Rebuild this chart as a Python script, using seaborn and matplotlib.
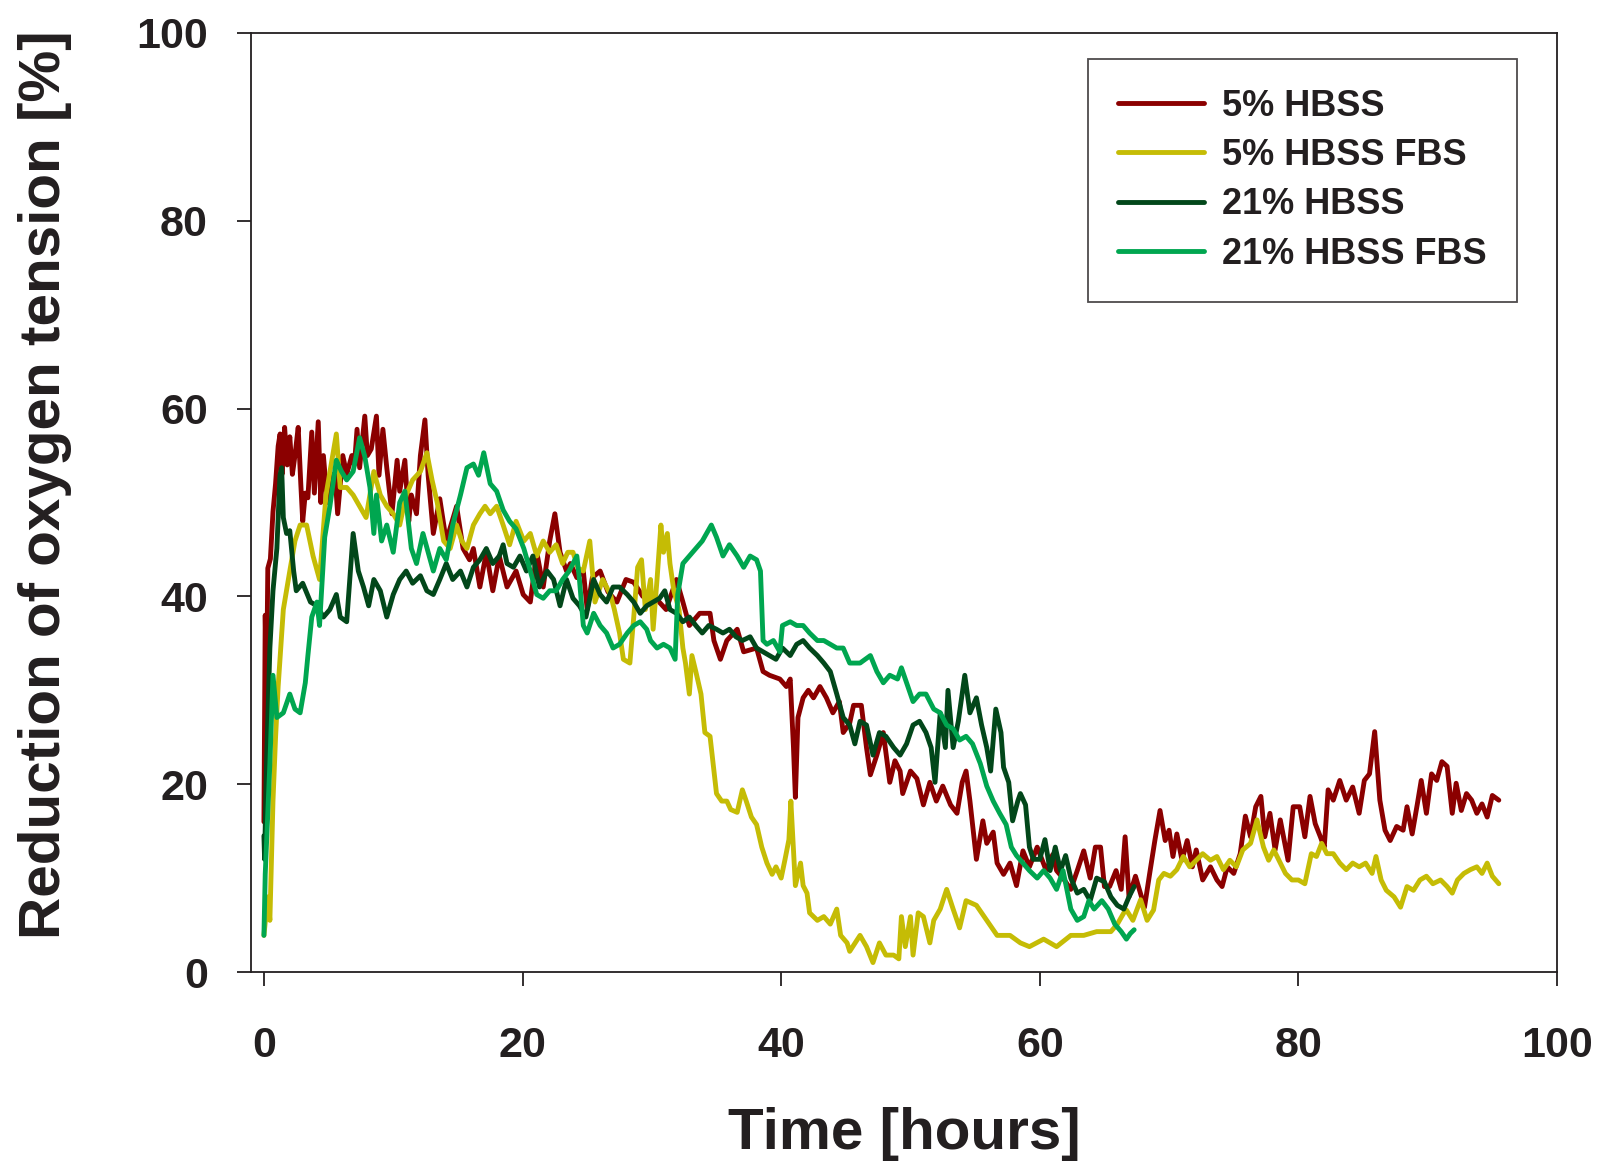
import numpy as np
import pandas as pd
import matplotlib
matplotlib.use("Agg")
import matplotlib.pyplot as plt
import seaborn as sns

# ---------------- data ----------------
labels = ["5% HBSS", "5% HBSS FBS", "21% HBSS", "21% HBSS FBS"]
colors = ["#8B0000", "#C5BC05", "#02471A", "#00A650"]

# 5% HBSS
t_red = [0.0, 0.1, 0.2, 0.3, 0.5, 0.7, 0.9, 1.1, 1.25, 1.4, 1.6, 1.8, 2.0, 2.2, 2.4, 2.65, 2.85, 3.0,
         3.2, 3.4, 3.7, 3.9, 4.2, 4.4, 4.6, 4.9, 5.2, 5.5, 5.7, 6.1, 6.4, 6.8, 7.0, 7.2, 7.4, 7.8, 8.0,
         8.3, 8.7, 8.9, 9.2, 9.5, 9.9, 10.3, 10.5, 10.9, 11.2, 11.4, 11.8, 12.1, 12.45, 12.7, 13.1,
         13.6, 14.1, 14.9, 15.4, 15.9, 16.2, 16.7, 17.2, 17.7, 18.2, 18.8, 19.5, 20.05, 20.6, 21.1,
         21.6, 22.1, 22.5, 22.9, 23.4, 23.7, 24.2, 24.7, 25.0, 25.4, 26.0, 26.6, 27.3, 28.0, 28.6,
         29.3, 29.9, 30.5, 31.1, 31.9, 32.4, 32.9, 33.7, 34.5, 34.8, 35.3, 35.8, 36.6, 37.1, 38.1,
         38.6, 39.1, 39.9, 40.4, 40.7, 40.95, 41.1, 41.3, 41.7, 42.1, 42.5, 43.0, 43.5, 44.0, 44.5,
         44.8, 45.3, 45.6, 46.2, 46.6, 46.9, 47.4, 47.9, 48.4, 48.8, 49.2, 49.4, 50.0, 50.5, 51.0,
         51.5, 52.0, 52.5, 53.1, 53.6, 54.0, 54.3, 54.6, 55.1, 55.6, 55.9, 56.4, 56.7, 57.2, 57.7,
         58.2, 58.7, 59.2, 59.8, 60.5, 61.0, 61.3, 61.8, 62.4, 62.9, 63.4, 63.9, 64.3, 64.7, 65.0,
         65.4, 65.9, 66.3, 66.6, 66.9, 67.4, 68.1, 68.5, 68.9, 69.3, 69.7, 70.0, 70.3, 70.6, 71.0,
         71.4, 71.8, 72.1, 72.6, 73.2, 73.7, 74.1, 74.5, 75.0, 75.5, 75.9, 76.3, 76.7, 77.1, 77.4,
         77.8, 78.2, 78.6, 79.0, 79.2, 79.6, 80.1, 80.5, 80.9, 81.3, 81.7, 82.0, 82.3, 82.7, 83.2,
         83.7, 84.2, 84.7, 85.1, 85.5, 85.9, 86.3, 86.7, 87.1, 87.6, 88.1, 88.4, 88.8, 89.2, 89.5,
         89.9, 90.3, 90.7, 91.1, 91.5, 91.9, 92.2, 92.6, 93.0, 93.4, 93.8, 94.2, 94.6, 95.0, 95.5]
red = [16, 38, 30, 43, 44, 49, 52, 56, 57.3, 53, 58, 54, 57, 53, 55, 58, 52, 48,
       51, 50.5, 57.5, 51, 58.6, 50, 55, 50, 53, 52.9, 48.8, 55, 53, 55, 54, 57.8, 53.7, 59.2, 55,
       55.7, 59.2, 52.9, 57.8, 53.7, 48.8, 54.5, 51.2, 54.5, 48, 50.8, 48.8, 55, 58.8, 52.9, 46.7,
       50.4, 45.9, 49.6, 45.1, 43.9, 45.1, 41, 44.7, 40.6, 44.3, 41, 42.7, 40.2, 39.4, 44.7,
       41, 45.9, 48.8, 44.7, 42.7, 43.5, 42.0, 42.7, 38.6, 42, 42.7, 40.5, 39.4, 41.8, 41.5,
       40, 40.2, 39.5, 38.6, 41.8, 39.4, 36.9, 38.2, 38.2, 35.3, 33.3, 35.3, 36.5, 34.1, 34.5,
       32, 31.6, 31.2, 30.4, 31.2, 24, 18.6, 27.1, 29.2, 30.0, 29.2, 30.4, 29.2, 27.6, 28.8,
       25.5, 26.5, 28.4, 28.4, 23.9, 21, 23.1, 25.5, 20.2, 22.5, 21.4, 19, 21.4, 20.6, 17.8,
       20.2, 18.2, 19.8, 17.8, 16.9, 20.2, 21.4, 18.2, 12, 16.1, 13.7, 14.9, 11.6, 10.4, 11.6,
       9.2, 12.9, 11.2, 13.3, 10.8, 12.5, 10.8, 10, 8.8, 10.8, 12.9, 10, 13.3, 13.3, 9.1,
       9.1, 10.8, 8.8, 14.4, 8.0, 10.2, 6.9, 10.5, 14.0, 17.2, 14.0, 15.1, 12.3, 14.7, 11.9,
       14.0, 11.2, 13.0, 9.8, 11.2, 9.8, 9.1, 11.2, 10.5, 12.6, 16.6, 14.4, 17.6, 18.7, 14.4,
       16.9, 13.0, 16.2, 13.3, 11.9, 17.6, 17.6, 14.4, 18.7, 15.8, 14.4, 13.3, 19.4, 18.3, 20.4,
       18.3, 19.7, 16.9, 20.4, 21.1, 25.6, 18.3, 15.1, 14.0, 15.5, 15.1, 17.6, 14.7, 17.9, 20.4,
       16.9, 21.1, 20.4, 22.4, 21.9, 16.9, 20.1, 17.2, 19.0, 18.3, 16.9, 17.9, 16.5, 18.8, 18.3]

# 5% HBSS FBS
t_yel = [0.0, 0.3, 0.46, 0.7, 0.9, 1.1, 1.5, 2.0, 2.4, 2.8, 3.3, 3.8, 4.3, 4.8, 5.4, 5.6, 5.9, 6.4,
         6.9, 7.4, 7.9, 8.5, 9.0, 9.5, 10.0, 10.5, 11.0, 11.5, 12.1, 12.6, 13.0, 13.4, 13.9, 14.4,
         14.9, 15.3, 15.7, 16.2, 16.7, 17.1, 17.5, 18.0, 18.5, 19.0, 19.5, 20.1, 20.6, 21.1, 21.6,
         22.1, 22.6, 23.1, 23.5, 23.9, 24.3, 24.7, 25.2, 25.6, 26.2, 26.8, 27.1, 27.5, 27.8, 28.3,
         28.6, 28.9, 29.2, 29.5, 29.9, 30.1, 30.4, 30.7, 30.9, 31.2, 31.4, 31.7, 32.1, 32.4, 32.6,
         32.9, 33.1, 33.4, 33.8, 34.1, 34.5, 34.8, 35.0, 35.4, 35.8, 36.1, 36.6, 37.0, 37.3, 37.7,
         38.1, 38.5, 38.9, 39.3, 39.6, 40.0, 40.3, 40.6, 40.75, 41.1, 41.5, 41.7, 42.0, 42.2, 42.8,
         43.3, 43.8, 44.3, 44.6, 45.1, 45.3, 46.1, 46.6, 47.1, 47.6, 48.1, 48.7, 49.1, 49.3, 49.6,
         50.0, 50.2, 50.6, 51.0, 51.5, 51.8, 52.3, 52.8, 53.3, 53.8, 54.3, 55.1, 55.9, 56.7, 57.7,
         58.5, 59.2, 60.3, 61.3, 62.4, 63.4, 64.4, 65.5, 66.0, 66.5, 66.7, 67.2, 67.8, 68.3, 68.8,
         69.2, 69.6, 70.1, 70.6, 71.1, 71.6, 72.1, 72.6, 73.2, 73.7, 74.2, 74.7, 75.2, 75.7, 76.3,
         76.8, 77.3, 77.7, 78.1, 78.6, 79.0, 79.5, 80.0, 80.5, 81.0, 81.4, 81.8, 82.2, 82.7, 83.2,
         83.7, 84.2, 84.7, 85.2, 85.7, 86.0, 86.4, 86.8, 87.4, 87.9, 88.4, 88.9, 89.4, 89.9, 90.4,
         91.0, 91.5, 91.9, 92.3, 92.8, 93.3, 93.8, 94.2, 94.6, 95.0, 95.5]
yel = [3.9, 8, 5.5, 18.2, 25, 30.4, 38.6, 42.7, 45.9, 47.6, 47.6, 44.3, 41.8, 50.8, 55.7, 57.3, 51.6, 51.6,
       50.8, 49.6, 48.4, 53.3, 50.8, 49.6, 48.8, 47.6, 50.8, 52.4, 53.3, 55.3, 52.4, 50.0, 45.9, 45.1,
       47.6, 45.9, 45.1, 47.6, 48.8, 49.6, 48.8, 49.6, 47.6, 45.5, 48.0, 45.9, 46.7, 44.3, 45.9,
       44.7, 45.5, 43.5, 44.7, 44.7, 43.0, 42.7, 45.9, 39.4, 41.8, 40.2, 38.6, 36.1, 33.3, 32.9,
       37.8, 43.1, 43.9, 38.6, 41.8, 36.5, 41.8, 47.6, 44.7, 46.7, 43.5, 40.6, 38.6, 34.5, 32.9,
       29.6, 33.7, 32.0, 29.6, 25.5, 25.1, 21.4, 19.0, 18.2, 18.2, 17.3, 17.0, 19.4, 18.2, 16.5,
       15.7, 13.3, 11.6, 10.4, 11.2, 10.0, 12.0, 14.1, 18.2, 9.2, 11.6, 9.2, 8.4, 6.3, 5.5,
       5.9, 5.1, 6.7, 3.9, 3.1, 2.2, 3.9, 2.7, 1.0, 3.1, 1.8, 1.8, 1.4, 5.9, 2.7,
       5.9, 1.8, 6.3, 5.9, 3.1, 5.5, 6.7, 8.8, 6.7, 4.7, 7.6, 7.1, 5.5, 3.9, 3.9,
       3.1, 2.7, 3.5, 2.7, 3.9, 3.9, 4.3, 4.3, 5.1, 6.3, 6.6, 5.5, 7.7, 5.5, 6.6,
       9.8, 10.5, 10.2, 10.9, 12.3, 11.2, 11.9, 12.6, 11.9, 12.3, 10.9, 11.9, 11.2, 13.0, 13.7,
       16.2, 13.3, 11.9, 13.0, 11.6, 10.5, 9.8, 9.8, 9.4, 12.6, 12.3, 13.7, 12.6, 12.6, 11.6,
       10.9, 11.6, 11.2, 11.6, 10.5, 12.3, 9.8, 8.7, 8.0, 6.9, 9.1, 8.7, 9.8, 10.2, 9.4,
       9.8, 9.1, 8.4, 9.8, 10.5, 10.9, 11.2, 10.5, 11.6, 10.2, 9.4]

# 21% HBSS
t_dkg = [0.0, 0.05, 0.2, 0.46, 0.7, 1.0, 1.24, 1.37, 1.5, 1.75, 2.0, 2.3, 2.5, 3.0, 3.6, 4.1, 4.6, 5.1,
         5.6, 5.9, 6.4, 6.9, 7.3, 7.7, 8.1, 8.5, 9.0, 9.5, 10.0, 10.5, 11.0, 11.5, 12.1, 12.6, 13.1,
         13.6, 14.1, 14.6, 15.2, 15.7, 16.2, 16.7, 17.2, 17.7, 18.2, 18.5, 18.8, 19.3, 19.8, 20.3,
         20.8, 21.3, 21.9, 22.4, 22.9, 23.4, 23.9, 24.4, 24.9, 25.5, 26.0, 26.5, 27.0, 27.5, 28.1,
         28.6, 29.1, 29.6, 30.1, 30.6, 31.0, 31.4, 31.9, 32.4, 32.9, 33.4, 33.9, 34.4, 35.0, 35.5,
         36.0, 36.5, 37.0, 37.6, 38.1, 38.6, 39.1, 39.6, 40.1, 40.7, 41.2, 41.7, 42.2, 42.8, 43.3,
         43.8, 44.3, 44.8, 45.3, 45.7, 46.1, 46.6, 47.1, 47.6, 48.1, 48.7, 49.2, 49.7, 50.2, 50.7,
         51.2, 51.6, 51.9, 52.3, 52.7, 52.9, 53.3, 53.7, 54.2, 54.6, 55.1, 55.5, 55.9, 56.2, 56.6,
         57.0, 57.2, 57.6, 57.9, 58.3, 58.5, 58.9, 59.2, 59.5, 60.0, 60.4, 60.8, 61.2, 61.6, 62.0,
         62.4, 62.9, 63.4, 63.9, 64.4, 65.0, 65.5, 66.0, 66.5, 66.9, 67.3]
dkg = [14.5, 12, 22.2, 34.5, 40.6, 45.1, 52.9, 53.7, 48.4, 46.7, 47.0, 42.7, 40.6, 41.4, 39.4, 39.0, 37.8, 38.6,
       40.2, 37.8, 37.3, 46.7, 42.7, 41.0, 39.0, 41.8, 40.6, 37.8, 40.2, 41.8, 42.7, 41.4, 42.2, 40.6, 40.2,
       41.8, 43.5, 41.8, 42.7, 41.0, 43.1, 43.9, 45.1, 43.5, 44.3, 45.5, 43.5, 43.1, 44.3, 42.7,
       44.3, 41.0, 42.7, 41.8, 39.0, 41.8, 39.8, 39.0, 37.8, 41.8, 40.2, 39.4, 41.0, 41.0, 40.2,
       39.4, 38.2, 39.0, 39.4, 39.8, 40.6, 38.6, 38.2, 37.3, 37.8, 36.9, 36.1, 36.9, 36.5, 36.1,
       36.5, 35.7, 35.3, 35.7, 34.5, 34.1, 33.7, 33.3, 34.5, 33.7, 34.9, 35.3, 34.5, 33.7, 32.9,
       32.0, 29.6, 27.1, 26.3, 24.3, 26.7, 26.3, 23.1, 25.5, 25.1, 23.9, 23.1, 24.3, 26.3, 26.7,
       25.5, 23.9, 20.2, 27.6, 23.9, 30.0, 23.9, 26.7, 31.6, 27.6, 29.2, 26.3, 23.9, 21.4, 28.0,
       25.5, 21.8, 20.2, 16.1, 18.2, 19.0, 17.8, 13.3, 12.0, 12.0, 14.1, 10.8, 13.3, 10.8, 12.4,
       10.0, 8.4, 8.8, 7.6, 10.0, 9.6, 8.0, 7.1, 6.7, 8.0, 9.1]

# 21% HBSS FBS
t_grn = [0.0, 0.1, 0.46, 0.7, 1.0, 1.5, 2.0, 2.4, 2.8, 3.2, 3.4, 3.7, 4.1, 4.3, 4.7, 5.1, 5.6, 6.0,
         6.4, 6.9, 7.4, 7.8, 8.2, 8.5, 8.7, 9.1, 9.5, 10.0, 10.5, 10.9, 11.2, 11.4, 11.8, 12.3, 12.7,
         13.1, 13.6, 14.1, 14.6, 15.2, 15.7, 16.2, 16.6, 17.0, 17.5, 18.0, 18.5, 19.0, 19.5, 20.1,
         20.6, 21.1, 21.6, 22.1, 22.6, 23.1, 23.6, 24.2, 24.4, 24.7, 25.0, 25.5, 26.0, 26.5, 27.0,
         27.5, 28.1, 28.6, 29.1, 29.6, 29.9, 30.4, 30.9, 31.4, 31.8, 32.0, 32.4, 32.9, 33.4, 33.9,
         34.6, 35.0, 35.5, 36.0, 36.6, 37.1, 37.6, 38.1, 38.4, 38.6, 38.9, 39.4, 39.9, 40.1, 40.7,
         41.2, 41.7, 42.2, 42.8, 43.3, 43.8, 44.3, 44.8, 45.3, 46.1, 46.9, 47.4, 47.9, 48.4, 49.0,
         49.3, 49.7, 50.2, 50.7, 51.2, 51.8, 52.3, 52.8, 53.3, 53.8, 54.3, 54.8, 55.4, 55.9, 56.4,
         56.9, 57.4, 57.8, 58.2, 58.7, 59.2, 59.8, 60.3, 60.8, 61.3, 61.8, 62.4, 62.9, 63.4, 63.8,
         64.2, 64.8, 65.3, 65.8, 66.3, 66.7, 67.0, 67.3]
grn = [3.9, 10.4, 22.2, 31.6, 27.1, 27.6, 29.6, 28.0, 27.6, 30.8, 33.7, 37.8, 39.4, 36.9, 46.3, 49.6, 54.5, 53.3,
       52.4, 53.3, 56.9, 54.9, 51.6, 46.7, 50.8, 45.9, 47.6, 44.7, 50.0, 51.2, 47.6, 45.1, 43.5, 46.7, 44.7,
       42.7, 45.1, 43.9, 47.6, 50.8, 53.7, 54.1, 52.9, 55.3, 52.0, 51.2, 49.2, 48.0, 47.2, 45.1,
       42.7, 40.2, 39.8, 40.6, 40.6, 41.8, 42.7, 44.3, 41.8, 36.9, 36.1, 38.2, 36.9, 36.1, 34.5,
       34.9, 36.1, 36.9, 37.3, 36.5, 35.3, 34.5, 34.9, 34.5, 33.3, 40.2, 43.5, 44.3, 45.1, 45.9,
       47.6, 46.3, 44.3, 45.5, 44.3, 43.1, 44.3, 43.9, 42.7, 35.3, 34.9, 35.3, 34.1, 36.9, 37.3,
       36.9, 36.9, 36.1, 35.3, 35.3, 34.9, 34.5, 34.5, 32.9, 32.9, 33.7, 32.0, 30.8, 31.6, 31.2,
       32.4, 30.8, 28.8, 29.6, 29.6, 28.0, 27.6, 26.3, 25.9, 24.7, 25.1, 24.3, 22.2, 19.8, 18.2,
       16.9, 15.7, 13.3, 12.4, 11.6, 10.8, 10.0, 10.8, 10.0, 8.8, 10.8, 6.7, 5.5, 5.9, 7.6,
       6.7, 7.6, 6.7, 5.1, 4.3, 3.5, 4.1, 4.5]

x_ticks = [0, 20, 40, 60, 80, 100]
y_ticks = [0, 20, 40, 60, 80, 100]

# ---------------- plot ----------------
sns.set_style("ticks")
plt.rcParams['font.family'] = ['Liberation Sans', 'DejaVu Sans']
plt.rcParams['font.weight'] = 'bold'
ink = "#231f20"

fig = plt.figure(figsize=(16.12, 11.62), dpi=100)
ax = fig.add_axes([251 / 1612, 1 - 972 / 1162, 1306 / 1612, 939 / 1162])

series = [(t_red, red), (t_yel, yel), (t_dkg, dkg), (t_grn, grn)]
for (t, v), lab, col in zip(series, labels, colors):
    df = pd.DataFrame({"time": t, "value": v})
    sns.lineplot(data=df, x="time", y="value", ax=ax, color=col, label=lab,
                 linewidth=3.5, sort=False)

ax.set_xlim(-1, 100)
ax.set_ylim(0, 100)
ax.set_xticks(x_ticks)
ax.set_yticks(y_ticks)
ax.tick_params(axis='both', direction='out', length=10, width=1.3, color=ink,
               labelsize=31, labelcolor=ink)
ax.tick_params(axis='x', pad=29)
ax.tick_params(axis='y', pad=21)
for lbl in ax.get_xticklabels() + ax.get_yticklabels():
    lbl.set_fontweight('bold')
for sp in ax.spines.values():
    sp.set_visible(True)
    sp.set_linewidth(1.3)
    sp.set_color(ink)

ax.set_xlabel("Time [hours]", fontsize=42, fontweight='bold', color=ink)
ax.set_ylabel("Reduction of oxygen tension [%]", fontsize=42, fontweight='bold', color=ink)
ax.xaxis.set_label_coords(0.5, -0.144)
ax.yaxis.set_label_coords(-0.137, 0.5186)

leg = ax.legend(loc='upper left', bbox_to_anchor=(1088 / 1612, 1 - 59 / 1162),
                bbox_transform=fig.transFigure, borderaxespad=0, fontsize=26,
                frameon=True, fancybox=False, edgecolor=ink, borderpad=0.82,
                labelspacing=0.40, handlelength=2.4, handletextpad=0.5)
leg.get_frame().set_linewidth(1.3)
for txt in leg.get_texts():
    txt.set_fontweight('bold')
    txt.set_color(ink)

fig.savefig("out.png", dpi=100)
